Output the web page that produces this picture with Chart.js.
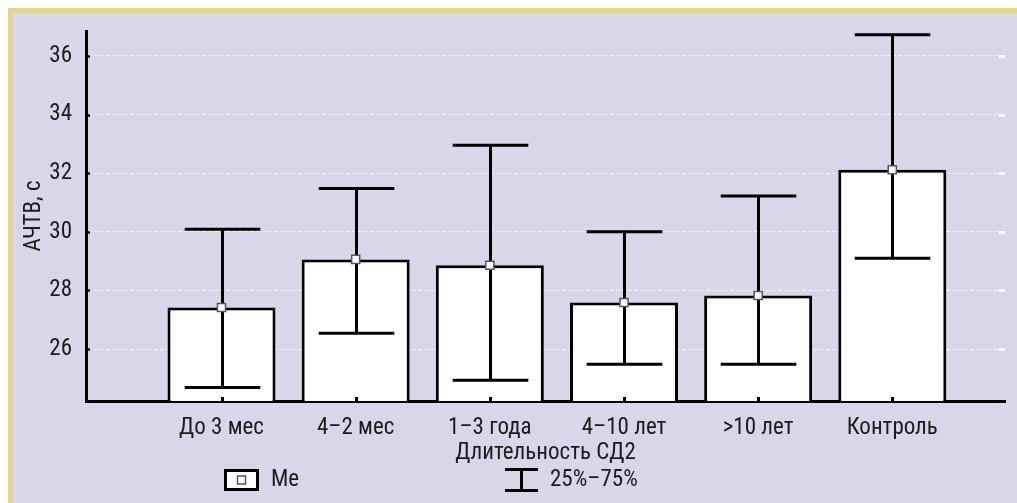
<!DOCTYPE html>
<html>
<head>
<meta charset="utf-8">
<script src="https://cdn.jsdelivr.net/npm/chart.js@4.4.1/dist/chart.umd.min.js"></script>
<style>
  html, body { margin: 0; padding: 0; background: #ffffff; width: 1017px; height: 503px; overflow: hidden; }
  #frame { position: absolute; left: 8px; top: 8px; width: 1009px; height: 495px; background: #e2d68d; }
  #chart { position: absolute; left: 5px; top: 5px; background: #d9d6e9; }
</style>
</head>
<body>
<div id="frame"><canvas id="chart" width="1004" height="490"></canvas></div>
<script>
// Groups (duration of type 2 diabetes) and their positions on the x axis
const CATEGORIES = ['До 3 мес', '4–2 мес', '1–3 года', '4–10 лет', '>10 лет', 'Контроль'];
const CATEGORY_POS = [1, 2, 3, 4, 5, 6];

// APTT, seconds: median (bar height) and interquartile range (whiskers)
const MEDIAN = [27.42, 29.06, 28.86, 27.59, 27.83, 32.12];
const Q25 = [24.69, 26.54, 24.94, 25.48, 25.48, 29.10];
const Q75 = [30.09, 31.48, 32.95, 30.00, 31.22, 36.72];

// Axis ranges and tick values
const Y_TICKS = [26, 28, 30, 32, 34, 36];
const Y_MIN = 24.23;
const Y_MAX = 36.85;
const X_MIN = -0.01;
const X_MAX = 6.84;

const LEGEND_LABELS = ['Me', '25%–75%'];

const FONT = '"Liberation Sans Narrow", "Roboto Condensed", "DejaVu Sans Condensed", Roboto, sans-serif';
const TEXT_COLOR = '#1c1c1c';

Chart.defaults.font.family = FONT;
Chart.defaults.font.size = 23;
Chart.defaults.color = TEXT_COLOR;

// Whiskers, inner tick marks and the legend row
const decorations = {
  id: 'decorations',
  afterDatasetDraw(chart, args) {
    if (args.index !== 0) return;
    const ctx = chart.ctx;
    const ys = chart.scales.y;
    const area = chart.chartArea;
    const meta = chart.getDatasetMeta(0);
    ctx.save();
    ctx.strokeStyle = '#000';
    ctx.lineWidth = 3;
    ctx.lineCap = 'butt';
    meta.data.forEach((bar, i) => {
      const cx = Math.round(bar.x) + 0.5;
      const half = bar.width * 0.35;
      const yTop = ys.getPixelForValue(Q75[i]);
      const yBot = ys.getPixelForValue(Q25[i]);
      ctx.beginPath();
      ctx.moveTo(cx, yTop); ctx.lineTo(cx, yBot);
      ctx.moveTo(cx - half, yTop); ctx.lineTo(cx + half, yTop);
      ctx.moveTo(cx - half, yBot); ctx.lineTo(cx + half, yBot);
      ctx.stroke();
      // tick mark pointing up from the x axis
      ctx.beginPath();
      ctx.moveTo(cx, area.bottom); ctx.lineTo(cx, area.bottom - 4);
      ctx.stroke();
    });
    // tick marks pointing right from the y axis, white marks at the right end
    Y_TICKS.forEach(v => {
      const py = Math.round(ys.getPixelForValue(v)) + 0.5;
      ctx.strokeStyle = '#000';
      ctx.lineWidth = 2.5;
      ctx.beginPath();
      ctx.moveTo(area.left - 1, py); ctx.lineTo(area.left + 4, py);
      ctx.stroke();
      ctx.strokeStyle = '#ffffff';
      ctx.lineWidth = 3;
      ctx.beginPath();
      ctx.moveTo(area.right - 6, py); ctx.lineTo(area.right, py);
      ctx.stroke();
    });
    ctx.restore();
  },
  afterDraw(chart) {
    const ctx = chart.ctx;
    const ly = 467;
    ctx.save();
    // median marker entry
    ctx.fillStyle = '#ffffff';
    ctx.fillRect(212, 457, 33, 20);
    ctx.strokeStyle = '#000';
    ctx.lineWidth = 3;
    ctx.strokeRect(212.5, 457.5, 32, 19);
    ctx.fillStyle = '#ffffff';
    ctx.fillRect(224.5, 463, 8, 8);
    ctx.strokeStyle = '#555555';
    ctx.lineWidth = 1.5;
    ctx.strokeRect(224.5, 463, 8, 8);
    // quartile range entry
    ctx.strokeStyle = '#000';
    ctx.lineWidth = 3;
    ctx.beginPath();
    ctx.moveTo(492, 456.5); ctx.lineTo(525, 456.5);
    ctx.moveTo(492, 477.5); ctx.lineTo(525, 477.5);
    ctx.moveTo(508.5, 456.5); ctx.lineTo(508.5, 477.5);
    ctx.stroke();
    ctx.fillStyle = TEXT_COLOR;
    ctx.font = '23px ' + FONT;
    ctx.textBaseline = 'middle';
    ctx.textAlign = 'left';
    ctx.fillText(LEGEND_LABELS[0], 258, ly);
    ctx.fillText(LEGEND_LABELS[1], 537, ly);
    ctx.restore();
  }
};

new Chart(document.getElementById('chart'), {
  type: 'bar',
  data: {
    datasets: [
      {
        label: 'Me',
        data: CATEGORY_POS.map((x, i) => ({ x: x, y: [Y_MIN, MEDIAN[i]] })),
        backgroundColor: '#ffffff',
        borderColor: '#000000',
        borderWidth: 3,
        borderSkipped: 'start',
        barPercentage: 0.805,
        categoryPercentage: 1,
        order: 2
      },
      {
        type: 'scatter',
        label: 'Me marker',
        data: CATEGORY_POS.map((x, i) => ({ x: x, y: MEDIAN[i] })),
        pointStyle: 'rect',
        pointRadius: 5.7,
        backgroundColor: '#ffffff',
        borderColor: '#555555',
        borderWidth: 1.5,
        order: 1
      }
    ]
  },
  options: {
    responsive: false,
    animation: false,
    events: [],
    layout: { padding: { top: 18, right: 12, left: 0, bottom: 0 } },
    plugins: {
      legend: { display: false },
      tooltip: { enabled: false }
    },
    scales: {
      x: {
        type: 'linear',
        min: X_MIN,
        max: X_MAX,
        offset: false,
        afterBuildTicks: s => { s.ticks = CATEGORY_POS.map(v => ({ value: v })); },
        afterFit: s => { s.height = 102; s.paddingLeft = 0; s.paddingRight = 0; },
        grid: { display: false, drawTicks: false, offset: false },
        border: { display: true, color: '#000000', width: 3 },
        ticks: {
          padding: 13,
          autoSkip: false,
          maxRotation: 0,
          color: TEXT_COLOR,
          callback: (v, i) => CATEGORIES[i]
        },
        title: {
          display: true,
          text: 'Длительность СД2',
          color: TEXT_COLOR,
          padding: { top: 0, bottom: 36 }
        }
      },
      y: {
        min: Y_MIN,
        max: Y_MAX,
        afterBuildTicks: s => { s.ticks = Y_TICKS.map(v => ({ value: v })); },
        afterFit: s => { s.width = 73; s.paddingTop = 0; s.paddingBottom = 0; },
        grid: { color: '#f2f1f6', lineWidth: 1, drawTicks: false },
        border: { display: true, color: '#000000', width: 3, dash: [4, 2] },
        ticks: { padding: 14, color: TEXT_COLOR },
        title: {
          display: true,
          text: 'АЧТВ, с',
          color: TEXT_COLOR,
          padding: { top: 7, bottom: 0 }
        }
      }
    }
  },
  plugins: [decorations]
});
</script>
</body>
</html>
